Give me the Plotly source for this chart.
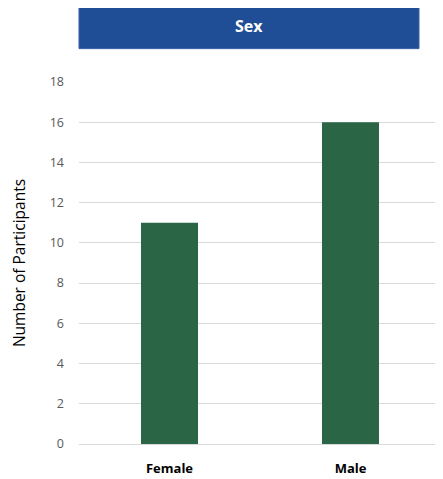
import plotly.graph_objects as go

categories = ["Female", "Male"]
values = [11, 16]
y_ticks = [0, 2, 4, 6, 8, 10, 12, 14, 16, 18]

# page body has an 8px margin, so shift everything by -8
OFF = 8
W, H = 443 - OFF, 479 - OFF
L, R, T, B = 79 - OFF, 2, 82 - OFF, 36 - OFF
pw = W - L - R
ph = H - T - B

def px(p):
    return (p - OFF - L) / pw

def py(p):
    return (H - B - (p - OFF)) / ph

fig = go.Figure()
fig.add_trace(go.Bar(
    x=categories, y=values,
    marker=dict(color="#2A6645", line=dict(width=0)),
    width=0.315,
))

fig.add_shape(type="rect", xref="paper", yref="paper",
              x0=px(79), x1=px(419), y0=py(48), y1=py(2),
              fillcolor="#1F4E96", line=dict(color="#3A63A8", width=1), layer="above")
fig.add_annotation(xref="paper", yref="paper",
                   x=(px(79) + px(419)) / 2, y=(py(48) + py(2)) / 2,
                   xanchor="center", yanchor="middle",
                   text="<b>Sex</b>", showarrow=False,
                   font=dict(family="Open Sans, Lato, sans-serif", size=16, color="white"))

fig.update_layout(
    width=W, height=H,
    margin=dict(l=L, r=R, t=T, b=B, pad=0),
    paper_bgcolor="white", plot_bgcolor="white",
    showlegend=False,
    font=dict(family="Open Sans, Lato, sans-serif"),
    xaxis=dict(
        showgrid=False, showline=True, linecolor="#D9D9D9", linewidth=1,
        tickfont=dict(size=13, color="black", weight="bold"),
        ticks="", ticklabelstandoff=12,
    ),
    yaxis=dict(
        range=[0, 18], tickvals=y_ticks,
        showgrid=True, gridcolor="#D9D9D9", gridwidth=1,
        zeroline=True, zerolinecolor="#D9D9D9", zerolinewidth=1,
        showline=False,
        tickfont=dict(size=12.5, color="#595959"),
        ticklabelstandoff=14,
        title=dict(text="Number of Participants", font=dict(size=15.5, color="black"), standoff=27),
    ),
)

fig.write_html("out.html")
